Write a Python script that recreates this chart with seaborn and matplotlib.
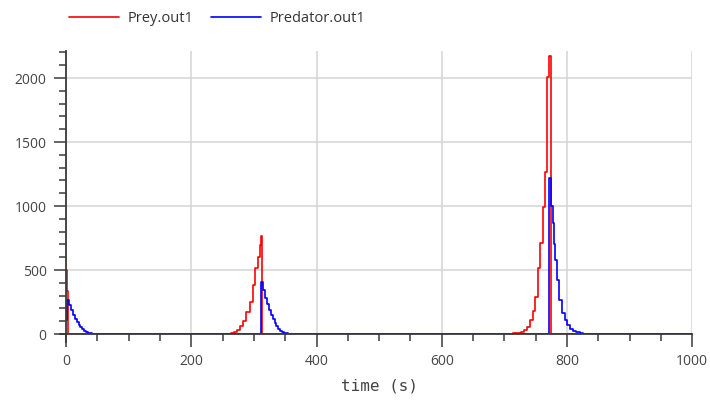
import numpy as np
import pandas as pd
import matplotlib
matplotlib.use("Agg")
import matplotlib.pyplot as plt
from matplotlib.ticker import MultipleLocator
import seaborn as sns

# Prey.out1 (red), step-wise
prey_time = [0, 1.5, 3, 40,
             258, 263, 268, 273, 278, 283, 288, 293, 298, 302, 306, 309, 311, 312.5, 345,
             708, 714, 720, 726, 731, 736, 741, 745, 749, 753, 757, 761, 765, 768, 771, 774, 826, 1000]
prey_vals = [500, 340, 4, 0,
             2, 6, 14, 35, 60, 100, 170, 250, 380, 515, 605, 695, 768, 3, 0,
             2, 5, 10, 20, 35, 57, 110, 180, 290, 520, 710, 990, 1270, 2010, 2170, 4, 0, 0]

# Predator.out1 (blue)
pred_time = [0, 1.5, 5, 8, 11, 14, 17, 20, 23, 26, 29, 32, 35, 38, 41, 44,
             312, 315, 318, 321, 324, 327, 330, 333, 336, 339, 342, 345, 348, 351, 354, 357,
             772, 775, 777, 779, 781, 784, 788, 792, 796, 800, 805, 810, 815, 820, 826, 1000]
pred_vals = [110, 265, 225, 185, 150, 120, 95, 72, 54, 40, 28, 19, 12, 7, 3, 0,
             405, 345, 285, 235, 190, 150, 115, 85, 60, 42, 28, 18, 10, 5, 2, 0,
             1220, 1000, 870, 700, 580, 420, 265, 165, 110, 70, 42, 25, 14, 7, 0, 0]

prey = pd.DataFrame({"time": prey_time, "value": prey_vals})
pred = pd.DataFrame({"time": pred_time, "value": pred_vals})

sns.set_style("ticks")
plt.rcParams["font.family"] = ["Open Sans", "DejaVu Sans"]

fig = plt.figure(figsize=(7.1, 4.03), dpi=100)
ax = fig.add_axes([0.093, 0.171, 0.882, 0.702])

sns.lineplot(data=prey, x="time", y="value", ax=ax, color="#ff0000", lw=1.2,
             drawstyle="steps-post", estimator=None, sort=False, label="Prey.out1")
sns.lineplot(data=pred, x="time", y="value", ax=ax, color="#0000ff", lw=1.2,
             drawstyle="steps-post", estimator=None, sort=False, label="Predator.out1")

ax.set_xlim(0, 1000)
ax.set_ylim(0, 2210)
ax.xaxis.set_major_locator(MultipleLocator(200))
ax.xaxis.set_minor_locator(MultipleLocator(50))
ax.yaxis.set_major_locator(MultipleLocator(500))
ax.yaxis.set_minor_locator(MultipleLocator(100))

ax.grid(True, which="major", color="#d4d4d4", lw=1.1)
ax.set_axisbelow(True)
for s in ["top", "right"]:
    ax.spines[s].set_visible(False)
for s in ["left", "bottom"]:
    ax.spines[s].set_color("#3a3a3a")
    ax.spines[s].set_linewidth(1.3)
ax.spines["left"].set_bounds(-60, 2210)
ax.spines["bottom"].set_bounds(-10, 1000)

ax.tick_params(which="major", length=9, width=1.1, color="#3a3a3a",
               labelsize=10, labelcolor="#444444", pad=5)
ax.tick_params(which="minor", length=5, width=1.1, color="#3a3a3a")

ax.set_xlabel("time (s)", family="DejaVu Sans Mono", fontsize=11.5, color="#444444", labelpad=7)
ax.set_ylabel("")

ax.get_legend().remove()
h, l = ax.get_legend_handles_labels()
fig.legend(h, l, loc="upper left", bbox_to_anchor=(0.079, 1.005), ncol=2, frameon=False,
           fontsize=10.5, handlelength=3.4, handletextpad=0.6, columnspacing=1.2,
           labelcolor="#333333")

fig.savefig("out.png", dpi=100)
